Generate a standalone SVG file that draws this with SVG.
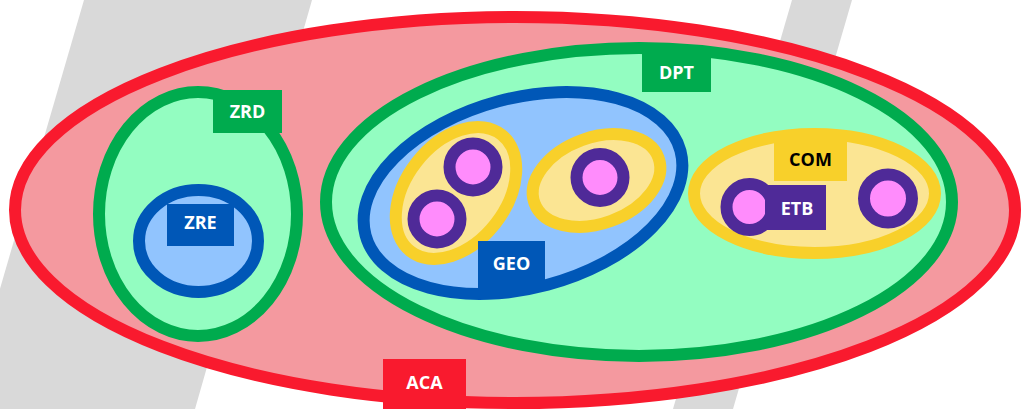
<svg xmlns="http://www.w3.org/2000/svg" width="1022" height="409" viewBox="0 0 1022 409">
<style>
.t{font-family:"Open Sans","Liberation Sans",sans-serif;font-weight:bold;font-size:18px;text-anchor:middle}
.w{fill:#fff}
.k{fill:#000}
.red{fill:#F4999F;stroke:#F91A2E;stroke-width:12}
.grn{fill:#93FDC1;stroke:#00AB4E;stroke-width:12}
.blu{fill:#91C4FE;stroke:#0057B7;stroke-width:12}
.yel{fill:#FBE593;stroke:#F8D02A;stroke-width:12}
.dot{fill:#FF8CFC;stroke:#4F2A98;stroke-width:12}
</style>
<g id="background">
<rect width="1022" height="409" fill="#fff"/>
<polygon points="84,0 312,0 195,409 -35,409" fill="#D9D9D9"/>
<polygon points="792,0 852,0 733,409 673,409" fill="#D9D9D9"/>
</g>
<g id="connectors"/>
<g id="ACA">
<ellipse class="red" cx="515" cy="210" rx="500" ry="193"/>
</g>
<g id="ZRD">
<ellipse class="grn" cx="198" cy="214" rx="99" ry="122"/>
<rect x="213" y="90" width="69" height="43" fill="#00AB4E"/>
<text class="t w" x="247.5" y="118">ZRD</text>
</g>
<g id="ZRE">
<ellipse class="blu" cx="198.5" cy="241" rx="59.5" ry="51"/>
<rect x="167" y="204" width="67" height="42" fill="#0057B7"/>
<text class="t w" x="200.5" y="229">ZRE</text>
</g>
<g id="DPT">
<ellipse class="grn" cx="639" cy="202" rx="313" ry="154"/>
<rect x="642" y="53" width="69" height="39" fill="#00AB4E"/>
<text class="t w" x="676.5" y="79">DPT</text>
</g>
<g id="GEO">
<ellipse class="blu" cx="523" cy="193" rx="163" ry="95" transform="rotate(-15 523 193)"/>
</g>
<g id="COM1">
<ellipse class="yel" cx="456" cy="193" rx="74" ry="50" transform="rotate(-52 456 193)"/>
<circle class="dot" cx="473" cy="167" r="23.5"/>
<circle class="dot" cx="437" cy="219" r="23.5"/>
</g>
<g id="COM2">
<ellipse class="yel" cx="596.5" cy="180.5" rx="66" ry="43" transform="rotate(-20 596.5 180.5)"/>
<circle class="dot" cx="600" cy="177.5" r="23.5"/>
</g>
<g id="GEO-label">
<rect x="478" y="241" width="67" height="47" fill="#0057B7"/>
<text class="t w" x="511.5" y="270">GEO</text>
</g>
<g id="COM">
<ellipse class="yel" cx="814.5" cy="193.5" rx="120.5" ry="59.5"/>
<rect x="774" y="138" width="73" height="43" fill="#F8D02A"/>
<text class="t k" x="810.5" y="166">COM</text>
</g>
<g id="ETB">
<circle class="dot" cx="749.5" cy="207" r="23"/>
<rect x="765" y="185" width="61" height="45" fill="#4F2A98"/>
<text class="t w" x="797" y="215">ETB</text>
</g>
<g id="ETB2">
<circle class="dot" cx="888" cy="198.5" r="24"/>
</g>
<g id="ACA-label">
<rect x="383" y="359" width="83" height="50" fill="#F91A2E"/>
<text class="t w" x="424.5" y="389">ACA</text>
</g>
</svg>
